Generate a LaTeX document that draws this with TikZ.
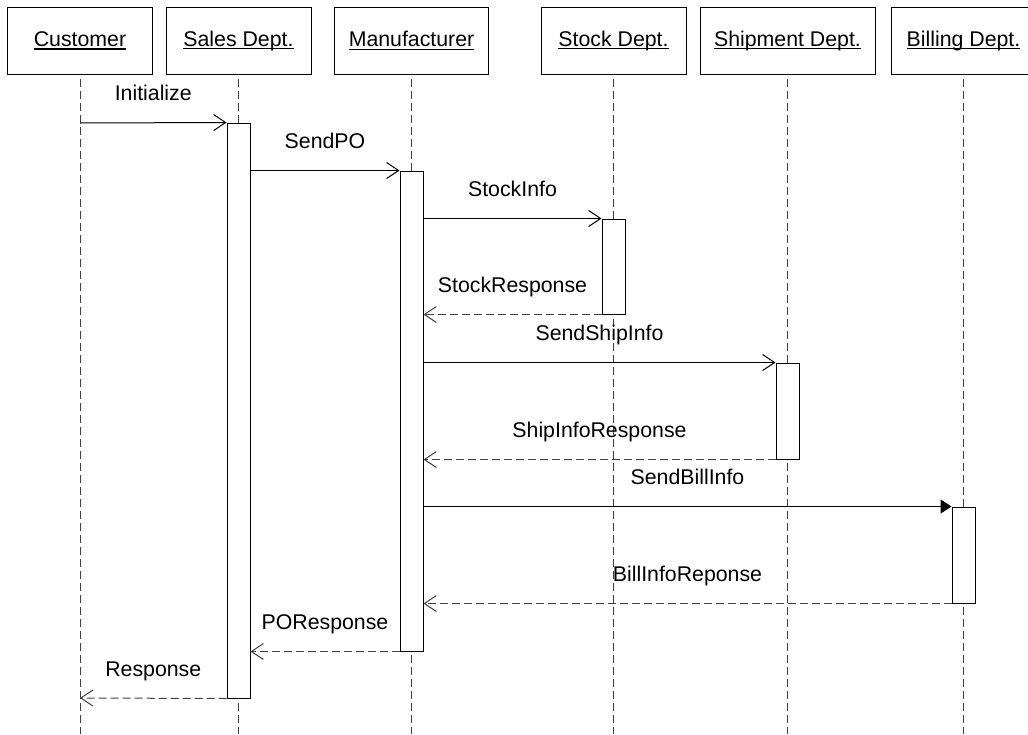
\documentclass[tikz,border=0pt]{standalone}
\usepackage{fontspec}
\setmainfont{Liberation Sans}
\usetikzlibrary{arrows.meta}

% fixed-position underline that ignores descenders
\newcommand\uln[1]{\leavevmode\setbox0\hbox{#1}\rlap{\rule[-3.2pt]{\wd0}{1.1pt}}\box0}

\begin{document}
\begin{tikzpicture}[x=1pt, y=-1pt, line width=1pt,
  every node/.style={font=\fontsize{21.3}{25}\selectfont},
  actor/.style={draw, minimum height=67pt, minimum width=145pt, inner sep=0pt},
  lifeline/.style={draw=black!75, dash pattern=on 8pt off 4pt},
  act/.style={draw, fill=white, minimum width=23pt, inner sep=0pt},
  call/.style={-{Straight Barb[length=12pt,width=16pt]}},
  sync/.style={-{Triangle[length=11pt,width=14pt]}},
  ret/.style={call, draw=black!75, dash pattern=on 8pt off 4pt},
  msg/.style={midway, anchor=base, yshift=22pt}
]
\useasboundingbox (0,0) rectangle (1028,734);
\clip (0,0) rectangle (1028,734);

% participants
\node[actor] (cu) at (80,40.5)    {\uln{Customer}};
\node[actor] (sd) at (238.5,40.5) {\uln{Sales Dept.}};
\node[actor, minimum width=154pt] (mf) at (411.5,40.5) {\uln{Manufacturer}};
\node[actor] (sk) at (613.5,40.5) {\uln{Stock Dept.}};
\node[actor, minimum width=175pt] (sh) at (787.5,40.5) {\uln{Shipment Dept.}};
\node[actor] (bi) at (963.5,40.5) {\uln{Billing Dept.}};

% lifeline ends
\coordinate (cuE) at (80,734);
\coordinate (sdE) at (238.5,734);
\coordinate (mfE) at (411.5,734);
\coordinate (skE) at (613.5,734);
\coordinate (shE) at (787.5,734);
\coordinate (biE) at (963.5,734);

\draw[lifeline] ([yshift=-4pt]cu.south) -- (cuE);
\draw[lifeline] ([yshift=-4pt]sd.south) -- (sdE);
\draw[lifeline] ([yshift=-4pt]mf.south) -- (mfE);
\draw[lifeline] ([yshift=-4pt]sk.south) -- (skE);
\draw[lifeline] ([yshift=-4pt]sh.south) -- (shE);
\draw[lifeline] ([yshift=-4pt]bi.south) -- (biE);

% activations
\node[act, minimum height=575pt] (sa) at (238.5,410.5) {};
\node[act, minimum height=480pt] (ma) at (411.5,411)   {};
\node[act, minimum height=95pt]  (ka) at (613.5,266.5) {};
\node[act, minimum height=96pt]  (ha) at (787.5,411)   {};
\node[act, minimum height=96pt]  (ba) at (963.5,555)   {};

\coordinate (cuS) at (80,123);
\coordinate (cuR) at (80,698);

% messages
\draw[call] (cuS) -- (sa.north west) node[msg] {Initialize};
\draw[call] (sa.east |- ma.north) -- (ma.north west) node[msg] {SendPO};
\draw[call] (ma.east |- ka.north) -- (ka.north west) node[msg] {StockInfo};
\draw[ret]  (ka.south west) -- (ma.east |- ka.south) node[msg] {StockResponse};
\draw[call] (ma.east |- ha.north) -- (ha.north west) node[msg] {SendShipInfo};
\draw[ret]  (ha.south west) -- (ma.east |- ha.south) node[msg] {ShipInfoResponse};
\draw[sync] (ma.east |- ba.north) -- (ba.north west) node[msg] {SendBillInfo};
\draw[ret]  (ba.south west) -- (ma.east |- ba.south) node[msg] {BillInfoReponse};
\draw[ret]  (ma.south west) -- (sa.east |- ma.south) node[msg] {POResponse};
\draw[ret]  (sa.south west) -- (cuR) node[msg] {Response};
\end{tikzpicture}
\end{document}
